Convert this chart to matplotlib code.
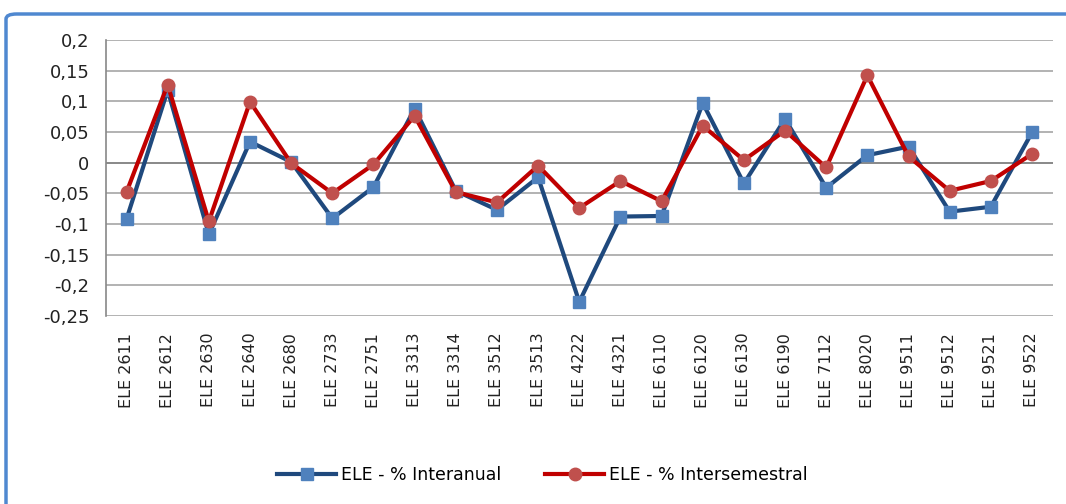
import matplotlib
matplotlib.use("Agg")
import matplotlib.pyplot as plt
from matplotlib.patches import FancyBboxPatch

# 카테고리 (x축 라벨)
categories = ["ELE 2611", "ELE 2612", "ELE 2630", "ELE 2640", "ELE 2680", "ELE 2733",
              "ELE 2751", "ELE 3313", "ELE 3314", "ELE 3512", "ELE 3513", "ELE 4222",
              "ELE 4321", "ELE 6110", "ELE 6120", "ELE 6130", "ELE 6190", "ELE 7112",
              "ELE 8020", "ELE 9511", "ELE 9512", "ELE 9521", "ELE 9522"]

# 시리즈 값
interanual = [-0.092, 0.118, -0.117, 0.034, 0.001, -0.091, -0.040, 0.088, -0.046, -0.077,
              -0.024, -0.227, -0.088, -0.087, 0.097, -0.034, 0.071, -0.041, 0.012, 0.026,
              -0.080, -0.072, 0.049]
intersemestral = [-0.048, 0.127, -0.096, 0.099, -0.001, -0.050, -0.003, 0.076, -0.048, -0.065,
                  -0.005, -0.074, -0.030, -0.063, 0.060, 0.004, 0.052, -0.008, 0.142, 0.010,
                  -0.046, -0.030, 0.014]

yticks = [0.2, 0.15, 0.1, 0.05, 0, -0.05, -0.1, -0.15, -0.2, -0.25]
ytick_labels = ["0,2", "0,15", "0,1", "0,05", "0", "-0,05", "-0,1", "-0,15", "-0,2", "-0,25"]

fig = plt.figure(figsize=(10.66, 5.04), dpi=100)
ax = fig.add_axes([0.0994, 0.373, 0.888, 0.548])

x = range(len(categories))

# 격자선 (Excel 스타일)
for v in yticks:
    ax.axhline(v, color="#888888" if v == 0 else "#a6a6a6", lw=1.4 if v == 0 else 1.2, zorder=1)

ax.plot(x, interanual, color="#1f497d", lw=3, marker="s", markersize=9,
        markerfacecolor="#4f81bd", markeredgecolor="#4f81bd", label="ELE - % Interanual", zorder=3)
ax.plot(x, intersemestral, color="#c00000", lw=3, marker="o", markersize=9,
        markerfacecolor="#c0504d", markeredgecolor="#c0504d", label="ELE - % Intersemestral", zorder=4)

ax.set_xlim(-0.5, len(categories) - 0.5)
ax.set_ylim(-0.25, 0.2)
ax.set_yticks(yticks)
ax.set_yticklabels(ytick_labels, fontsize=13, color="#222222")
ax.set_xticks(list(x))
ax.set_xticklabels(categories, rotation=90, fontsize=11.5, color="#222222")
ax.tick_params(axis="both", length=0)
ax.tick_params(axis="y", pad=12)
ax.tick_params(axis="x", pad=12)

for s in ["top", "right", "bottom"]:
    ax.spines[s].set_visible(False)
ax.spines["left"].set_color("#888888")
ax.spines["left"].set_linewidth(1.2)

fig.legend(loc="center", bbox_to_anchor=(0.509, 0.0575), ncol=2, frameon=False,
           fontsize=12.5, handlelength=3.4, columnspacing=2.5, handletextpad=0.3)

# 차트 외곽 테두리 (파란색)
border = FancyBboxPatch((6 / 1066, -0.2), 1.2, (504 - 14) / 504 + 0.2,
                        boxstyle="round,pad=0,rounding_size=0.01",
                        transform=fig.transFigure, fill=False,
                        edgecolor="#4f88d0", linewidth=2.5)
fig.patches.append(border)

plt.savefig("out.png", dpi=100)
